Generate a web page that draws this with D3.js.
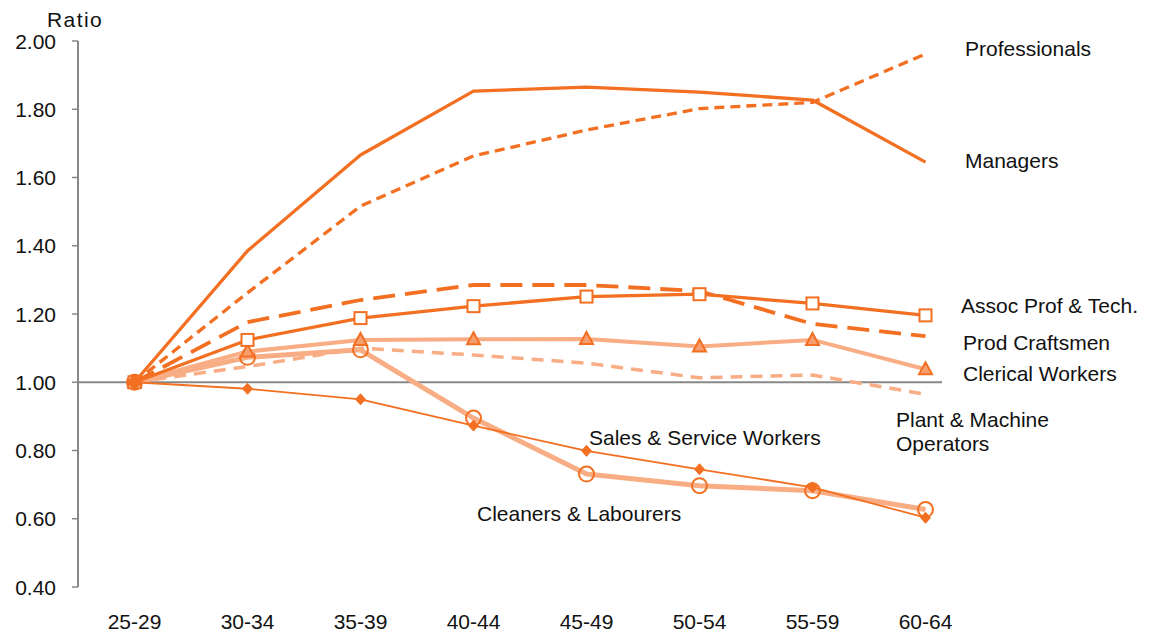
<!DOCTYPE html>
<html><head><meta charset="utf-8">
<script src="https://cdn.jsdelivr.net/npm/d3@7"></script>
<style>body{margin:0;background:#fff}text{font-family:"Liberation Sans",Arial,sans-serif;fill:#111}</style>
</head><body><svg id="c" width="1151" height="637"></svg>
<script>
const categories = ["25-29","30-34","35-39","40-44","45-49","50-54","55-59","60-64"];
const yTicks = [0.4,0.6,0.8,1.0,1.2,1.4,1.6,1.8,2.0];
const managers      = [1.00,1.385,1.666,1.853,1.865,1.850,1.827,1.645];
const professionals = [1.00,1.262,1.516,1.663,1.739,1.802,1.820,1.962];
const craftsmen     = [1.00,1.176,1.241,1.285,1.285,1.267,1.171,1.135];
const assocProf     = [1.00,1.124,1.188,1.223,1.251,1.258,1.231,1.196];
const clerical      = [1.00,1.090,1.124,1.126,1.127,1.105,1.124,1.038];
const plantOps      = [1.00,1.046,1.100,1.080,1.056,1.013,1.021,0.965];
const cleaners      = [1.00,1.073,1.095,0.895,0.731,0.697,0.682,0.627];
const salesService  = [1.00,0.981,0.950,0.873,0.799,0.745,0.692,0.603];

const ORANGE="#F36F21", LIGHT="#F9AD84";
const series = [
  {name:"Plant & Machine Operators", values:plantOps, color:LIGHT, width:3.5, dash:"12,8", marker:null},
  {name:"Cleaners & Labourers", values:cleaners, color:LIGHT, width:5, dash:null, marker:"circle"},
  {name:"Clerical Workers", values:clerical, color:LIGHT, width:4, dash:null, marker:"triangle"},
  {name:"Sales & Service Workers", values:salesService, color:ORANGE, width:1.8, dash:null, marker:"diamond"},
  {name:"Prod Craftsmen", values:craftsmen, color:ORANGE, width:3.8, dash:"22,10", marker:null},
  {name:"Assoc Prof & Tech.", values:assocProf, color:ORANGE, width:3.3, dash:null, marker:"square"},
  {name:"Professionals", values:professionals, color:ORANGE, width:3.3, dash:"10,6", marker:null},
  {name:"Managers", values:managers, color:ORANGE, width:3.3, dash:null, marker:null}
];

const svg=d3.select("#c");
const x=d3.scalePoint().domain(categories).range([134.5,925.5]);
const y=d3.scaleLinear().domain([0.4,2.0]).range([587,41]);
const AX="#888";

svg.append("line").attr("x1",78).attr("x2",78).attr("y1",y(2.0)).attr("y2",y(0.4)).attr("stroke",AX).attr("stroke-width",2);
svg.selectAll(".yt").data(yTicks).enter().append("line").attr("x1",72).attr("x2",78)
  .attr("y1",d=>y(d)).attr("y2",d=>y(d)).attr("stroke",AX).attr("stroke-width",1.5);
svg.selectAll(".yl").data(yTicks).enter().append("text").attr("x",56).attr("y",d=>y(d)).attr("dy","0.36em")
  .attr("text-anchor","end").attr("font-size",21).text(d=>d.toFixed(2));
svg.append("text").attr("x",47).attr("y",27).attr("font-size",21).attr("letter-spacing",1.4).text("Ratio");
svg.append("line").attr("x1",78).attr("x2",942).attr("y1",y(1)).attr("y2",y(1)).attr("stroke",AX).attr("stroke-width",2);
svg.selectAll(".xl").data(categories).enter().append("text").attr("x",d=>x(d)).attr("y",629)
  .attr("text-anchor","middle").attr("font-size",21).text(d=>d);

const line=d3.line().x((d,i)=>x(categories[i])).y(d=>y(d));
series.forEach(s=>{
  svg.append("path").datum(s.values).attr("d",line).attr("fill","none").attr("stroke",s.color)
    .attr("stroke-width",s.width).attr("stroke-dasharray",s.dash).attr("stroke-linejoin","round");
  if(s.marker){
    const g=svg.append("g");
    const pts=s.values.map((v,i)=>({cx:x(categories[i]),cy:y(v)}));
    if(s.marker==="circle"){
      g.selectAll("circle").data(pts).enter().append("circle").attr("cx",d=>d.cx).attr("cy",d=>d.cy).attr("r",7.5)
        .attr("fill","none").attr("stroke",ORANGE).attr("stroke-width",2);
    } else if(s.marker==="square"){
      g.selectAll("rect").data(pts).enter().append("rect").attr("x",d=>d.cx-6).attr("y",d=>d.cy-6)
        .attr("width",12).attr("height",12).attr("fill","#fff").attr("stroke",ORANGE).attr("stroke-width",2);
    } else if(s.marker==="triangle"){
      g.selectAll("path").data(pts).enter().append("path")
        .attr("d",d=>`M${d.cx},${d.cy-7}L${d.cx+6.5},${d.cy+5}L${d.cx-6.5},${d.cy+5}Z`)
        .attr("fill","#F79E6E").attr("stroke",ORANGE).attr("stroke-width",2);
    } else if(s.marker==="diamond"){
      g.selectAll("path").data(pts).enter().append("path")
        .attr("d",d=>`M${d.cx},${d.cy-5.5}L${d.cx+5},${d.cy}L${d.cx},${d.cy+5.5}L${d.cx-5},${d.cy}Z`)
        .attr("fill",ORANGE).attr("stroke",ORANGE).attr("stroke-width",1);
    }
  }
});
svg.append("circle").attr("cx",x(categories[0])).attr("cy",y(1)).attr("r",6).attr("fill",ORANGE);

const labels=[
  {t:"Professionals",x:965,y:48},
  {t:"Managers",x:965,y:160},
  {t:"Assoc Prof & Tech.",x:961,y:305},
  {t:"Prod Craftsmen",x:963,y:342},
  {t:"Clerical Workers",x:963,y:373},
  {t:"Plant & Machine",x:896,y:419},
  {t:"Operators",x:896,y:443},
  {t:"Sales & Service Workers",x:589,y:437},
  {t:"Cleaners & Labourers",x:477,y:513}
];
svg.selectAll(".lab").data(labels).enter().append("text").attr("x",d=>d.x).attr("y",d=>d.y).attr("dy","0.36em")
  .attr("font-size",21).text(d=>d.t);
</script></body></html>
